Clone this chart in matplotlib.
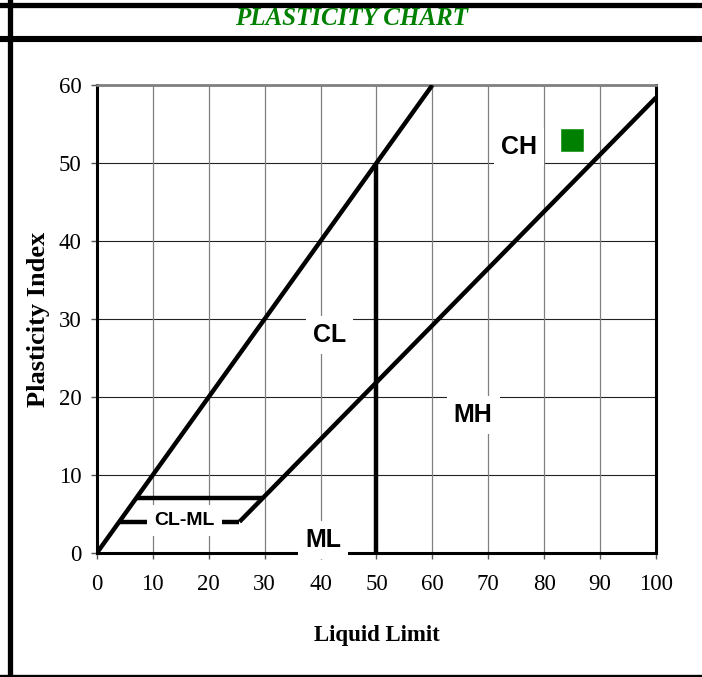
import matplotlib
matplotlib.use('Agg')
import matplotlib.pyplot as plt
from matplotlib.lines import Line2D

# boundary lines of the plasticity chart (liquid limit, plasticity index)
u_x = [0, 60]
u_y = [0, 60]
a_x = [25.5, 100]
a_y = [4, 58.4]
top_band_x = [7, 29.6]
top_band_y = [7, 7]
low_band_x = [4, 25.5]
low_band_y = [4, 4]
ll50_x = [50, 50]
ll50_y = [0, 50]

# zone labels
zones = ['CL', 'CH', 'MH', 'ML', 'CL-ML']
zone_x = [41.6, 75.4, 67.3, 40.5, 15.7]
zone_y = [27.9, 52.0, 17.7, 1.7, 4.1]

# soil sample
sample_ll = [85]
sample_pi = [52.9]

x_ticks = [0, 10, 20, 30, 40, 50, 60, 70, 80, 90, 100]
y_ticks = [0, 10, 20, 30, 40, 50, 60]

fig = plt.figure(figsize=(7.02, 6.77), dpi=100)
ax = fig.add_axes([0.138, 0.1832, 0.7966, 0.6912])

ax.set_xlim(0, 100)
ax.set_ylim(0, 60)
ax.set_xticks(x_ticks)
ax.set_yticks(y_ticks)

# gridlines: horizontal dark, vertical grey
for yv in y_ticks[1:]:
    ax.axhline(yv, color='#222222', lw=0.8, zorder=1)
for xv in x_ticks[1:]:
    ax.axvline(xv, color='#808080', lw=0.9, zorder=1)

lw = 3.2
for xs, ys in [(u_x, u_y), (a_x, a_y), (top_band_x, top_band_y),
               (low_band_x, low_band_y), (ll50_x, ll50_y)]:
    ax.plot(xs, ys, color='black', lw=lw, solid_capstyle='butt', zorder=3)

for name, zx, zy in zip(zones, zone_x, zone_y):
    fs = 14 if name == 'CL-ML' else 18
    ax.text(zx, zy, name, ha='center', va='center', fontsize=fs,
            fontweight='bold', family='Liberation Sans', zorder=4,
            bbox=dict(facecolor='white', edgecolor='none', pad=5))

ax.plot(sample_ll, sample_pi, 's', color='#008000', markersize=16,
        markeredgecolor='#2a9a2a', markeredgewidth=0.6, zorder=5)

for s in ['left', 'bottom', 'right']:
    ax.spines[s].set_color('black')
    ax.spines[s].set_linewidth(2.2)
ax.spines['top'].set_color('#808080')
ax.spines['top'].set_linewidth(2.0)

ax.tick_params(direction='out', length=4, width=1, color='#555555',
               labelsize=16.5, pad=7)
for lab in ax.get_xticklabels() + ax.get_yticklabels():
    lab.set_family('Liberation Serif')
ax.tick_params(axis='x', pad=11)

ax.set_xlabel('Liquid Limit', family='Liberation Serif', fontsize=16.5,
              fontweight='bold', labelpad=22)
ax.set_ylabel('Plasticity Index', family='Liberation Serif', fontsize=19,
              fontweight='bold', labelpad=6)

# title band and frame
fig.text(0.5, 0.972, 'PLASTICITY CHART', ha='center', va='center',
         color='#008000', fontsize=18, fontweight='bold', style='italic',
         family='Liberation Serif')
H = 677.0
W = 702.0
fig.add_artist(Line2D([0, 1], [1 - 4.5 / H] * 2, color='black', lw=3.8))
fig.add_artist(Line2D([0, 1], [1 - 39 / H] * 2, color='black', lw=4.4))
fig.add_artist(Line2D([9.5 / W] * 2, [0, 1], color='black', lw=3.8))
fig.add_artist(Line2D([0, 1], [1.5 / H] * 2, color='black', lw=2.4))

fig.savefig('out.png', dpi=100)
